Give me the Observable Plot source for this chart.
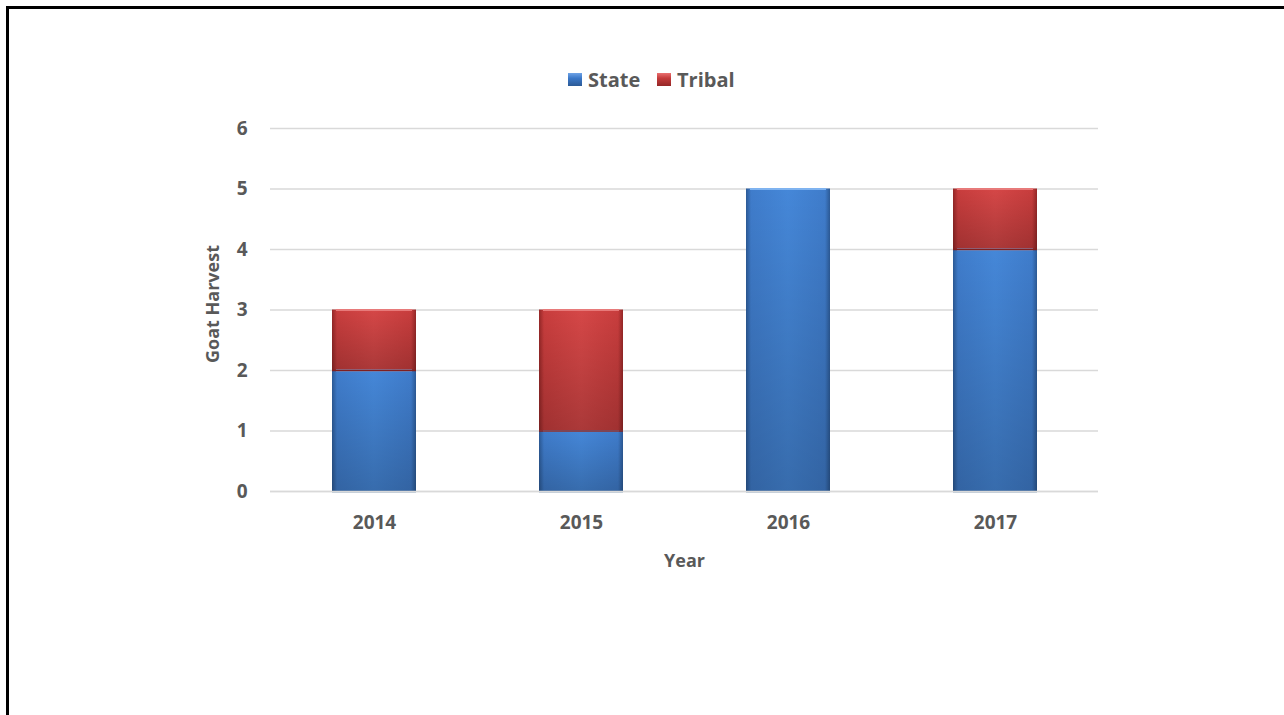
<!DOCTYPE html>
<html>
<head>
<meta charset="utf-8">
<script src="https://cdn.jsdelivr.net/npm/d3@7"></script>
<script src="https://cdn.jsdelivr.net/npm/@observablehq/plot@0.6"></script>
<style>
  html, body { margin: 0; padding: 0; background: #fff; }
  #frame { position: relative; width: 1284px; height: 715px; overflow: hidden; font-family: "Open Sans", sans-serif; }
  #border { position: absolute; left: 6px; top: 6px; width: 1400px; height: 800px; border-left: 3px solid #000; border-top: 3px solid #000; box-sizing: border-box; }
  #chart { position: absolute; left: 0; top: 0; }
  .sw { position: absolute; width: 14px; height: 13px; top: 73px; box-sizing: border-box; }
  .lt { position: absolute; top: 65px; line-height: 30px; font-weight: 700; font-size: 20px; color: #595959; }
</style>
</head>
<body>
<div id="frame">
  <div id="chart"></div>
  <div id="legend"></div>
  <div id="border"></div>
</div>
<script>
const years = ["2014", "2015", "2016", "2017"];
const stateHarvest = [2, 1, 5, 4];
const tribalHarvest = [1, 2, 0, 1];
const seriesNames = ["State", "Tribal"];
const yTicks = [0, 1, 2, 3, 4, 5, 6];

const seriesFill = {State: "url(#gState)", Tribal: "url(#gTribal)"};
const swatch = {State: "linear-gradient(#6fa3e6, #3b78c8 40%, #2c5a96)", Tribal: "linear-gradient(#ea7070, #c43b3b 40%, #952727)"};
const legendX = {State: [568, 588], Tribal: [657, 677]};

const rows = [];
years.forEach((yr, i) => {
  rows.push({year: yr, series: "State", value: stateHarvest[i]});
  rows.push({year: yr, series: "Tribal", value: tribalHarvest[i]});
});

function defs() {
  const svg = d3.create("svg:defs");
  const mk = (id, edge, mid, light) => {
    const g = svg.append("linearGradient").attr("id", id).attr("x1", 0).attr("x2", 1).attr("y1", 0).attr("y2", 0);
    g.append("stop").attr("offset", "0%").attr("stop-color", edge);
    g.append("stop").attr("offset", "6%").attr("stop-color", mid);
    g.append("stop").attr("offset", "50%").attr("stop-color", light);
    g.append("stop").attr("offset", "94%").attr("stop-color", mid);
    g.append("stop").attr("offset", "100%").attr("stop-color", edge);
  };
  mk("gState", "#2c5a96", "#3f7ccb", "#4587d8");
  mk("gTribal", "#952727", "#c83d3d", "#d54747");
  const v = svg.append("linearGradient").attr("id", "vShade").attr("x1", 0).attr("x2", 0).attr("y1", 0).attr("y2", 1);
  v.append("stop").attr("offset", "0%").attr("stop-color", "#000").attr("stop-opacity", 0);
  v.append("stop").attr("offset", "100%").attr("stop-color", "#000").attr("stop-opacity", 0.2);
  return svg.node();
}

const stackOpts = {x: "year", y: "value", z: "series", order: seriesNames};

const chart = Plot.plot({
  width: 1284,
  height: 715,
  marginLeft: 270,
  marginRight: 186,
  marginTop: 128,
  marginBottom: 224,
  style: {fontFamily: "Open Sans, sans-serif", fontWeight: 700, color: "#595959", background: "transparent"},
  x: {domain: years, paddingInner: 0.595, paddingOuter: 0.2975, label: null},
  y: {domain: [0, 6], label: null},
  color: {type: "identity"},
  marks: [
    defs,
    Plot.gridY(yTicks, {stroke: "#d9d9d9", strokeOpacity: 1, strokeWidth: 1.5}),
    Plot.barY(rows, Plot.stackY({...stackOpts, fill: d => seriesFill[d.series]})),
    Plot.barY(rows, Plot.stackY({...stackOpts, fill: d => "url(#vShade)"})),
    Plot.tickY(rows.filter(d => d.value > 0), Plot.stackY2({...stackOpts, stroke: d => d.series === "State" ? "#7fb3f0" : "#e77a7a", strokeWidth: 2, inset: 4})),
    Plot.tickY(rows.filter(d => d.value > 0), Plot.stackY1({...stackOpts, stroke: d => d.series === "State" ? "#274f85" : "#7f2020", strokeWidth: 1.5, inset: 0})),
    Plot.ruleY([0], {stroke: "#d9d9d9", strokeWidth: 1.5}),
    Plot.axisY(yTicks, {tickSize: 0, tickPadding: 23, fontSize: 19, fontWeight: 700, fill: "#595959", tickFormat: d => String(d), label: null}),
    Plot.axisX({tickSize: 0, tickPadding: 24, fontSize: 19, fontWeight: 700, fill: "#595959", label: null}),
    Plot.text(["Year"], {frameAnchor: "bottom", dy: 70, text: d => d, fontSize: 18, fontWeight: 700, fill: "#595959", lineAnchor: "middle"}),
    Plot.text(["Goat Harvest"], {frameAnchor: "left", dx: -57, dy: -6, text: d => d, rotate: -90, fontSize: 18, fontWeight: 700, fill: "#595959", lineAnchor: "middle", textAnchor: "middle"})
  ]
});
document.getElementById("chart").appendChild(chart);

const legend = document.getElementById("legend");
seriesNames.forEach(s => {
  const sw = document.createElement("div");
  sw.className = "sw";
  sw.style.left = legendX[s][0] + "px";
  sw.style.background = swatch[s];
  legend.appendChild(sw);
  const t = document.createElement("div");
  t.className = "lt";
  t.style.left = legendX[s][1] + "px";
  t.textContent = s;
  legend.appendChild(t);
});
</script>
</body>
</html>
